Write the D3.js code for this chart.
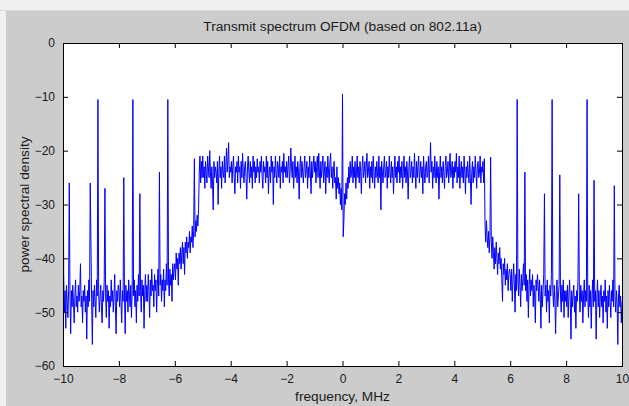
<!DOCTYPE html>
<html>
<head>
<meta charset="utf-8">
<script src="https://cdn.jsdelivr.net/npm/d3@7.9.0/dist/d3.min.js"></script>
<style>
  body { margin: 0; background: #f0f0f0; }
  svg { display: block; font-family: Arial, "Liberation Sans", sans-serif; }
  .tick text { fill: #1a1a1a; }
</style>
</head>
<body>
<svg id="chart" width="629" height="406"></svg>
<script>
// Axis ticks
const xTicks = [-10, -8, -6, -4, -2, 0, 2, 4, 6, 8, 10];
const yTicks = [-60, -50, -40, -30, -20, -10, 0];

// Frequency grid, MHz (20 MHz span, 0.025 MHz bins)
const freqStart = -10;
const freqStep = 0.025;

// PSD, dB, one row per MHz (40 bins each)
const lowerSkirt = [
  // -10
  -10.5, -43, -50, -46, -53, -45, -48, -51, -46, -26, -47, -54, -46, -49, -45, -48, -52, -47, -44, -49,
  -47, -50, -45, -48, -46, -41, -49, -47, -52, -46, -48, -45, -50, -47, -55, -46, -49, -44, -48, -26,
  // -9
  -37, -48, -56, -46, -49, -45, -48, -51, -44, -47, -10.5, -46, -50, -47, -45, -49, -52, -46, -48, -44,
  -27, -47, -51, -45, -48, -46, -53, -47, -49, -44, -48, -46, -50, -47, -43, -49, -54, -46, -48, -45,
  // -8
  -46, -49, -44, -48, -52, -46, -48, -25, -47, -54, -45, -48, -46, -50, -44, -47, -49, -45, -51, -46,
  -10.5, -47, -44, -49, -46, -52, -45, -48, -43, -47, -28, -46, -50, -44, -47, -45, -53, -46, -43, -48,
  // -7
  -45, -48, -43, -46, -51, -44, -47, -42, -46, -45, -49, -43, -46, -44, -50, -45, -42, -47, -24, -45,
  -43, -48, -44, -46, -42, -49, -44, -46, -41, -45, -10.5, -44, -47, -42, -45, -43, -48, -41, -44, -42,
  // -6
  -41, -44, -39, -42, -40, -45, -39, -41, -38, -42, -39, -37, -41, -38, -43, -37, -39, -36, -40, -37,
  -38, -35, -39, -36, -37, -34, -38, -35, -21.5, -36, -33, -35, -32, -34, -31, -24, -21, -26, -22, -25
];

const inBand = [
  // -5
  -21, -25, -23, -27, -22, -24, -26, -21, -23, -25, -20, -24, -27, -23, -26, -31, -22, -25, -23, -24,
  -26, -22, -30, -24, -21, -25, -23, -27, -22, -24, -25, -21, -26, -23, -19.5, -24, -22, -18.5, -25, -23,
  // -4
  -24, -22, -26, -23, -21, -25, -28, -23, -24, -22, -26, -21, -24, -23, -27, -22, -25, -20.5, -24, -26,
  -23, -22, -25, -29, -23, -21, -24, -26, -22, -25, -23, -27, -21, -24, -22, -26, -23, -25, -21.5, -24,
  // -3
  -23, -26, -22, -24, -21, -25, -27, -22, -24, -23, -26, -21, -25, -22, -28, -24, -23, -26, -21, -24,
  -22, -30, -23, -25, -21, -24, -26, -22, -23, -25, -21, -27, -23, -24, -22, -26, -20.5, -24, -23, -25,
  // -2
  -22, -25, -23, -21, -26, -24, -19.5, -23, -25, -22, -27, -24, -21, -25, -23, -26, -22, -24, -29, -23,
  -21, -25, -22, -24, -26, -23, -21, -25, -24, -22, -27, -23, -25, -21, -24, -28, -22, -25, -23, -21,
  // -1
  -24, -22, -26, -23, -21, -25, -20.5, -24, -27, -22, -25, -23, -21, -26, -24, -22, -28, -23, -25, -21,
  -24, -26, -22, -20.5, -25, -23, -27, -24, -22, -26, -25, -29, -23, -27, -25, -28, -26, -30, -27, -31,
  // 0
  -9.5, -36, -33, -28, -30, -26, -29, -25, -27, -23, -26, -22, -25, -24, -21, -26, -23, -25, -22, -27,
  -24, -21, -25, -23, -26, -22, -24, -28, -23, -21, -25, -24, -22, -26, -23, -20.5, -25, -24, -22, -27,
  // 1
  -23, -25, -22, -26, -21, -24, -27, -23, -25, -22, -24, -26, -21, -25, -23, -31, -22, -24, -26, -23,
  -21, -25, -24, -22, -27, -23, -25, -21, -24, -26, -22, -25, -23, -28, -24, -21, -25, -23, -26, -22,
  // 2
  -24, -21, -26, -23, -25, -22, -27, -24, -21, -25, -23, -26, -22, -24, -29, -23, -21, -25, -24, -22,
  -26, -23, -25, -20.5, -24, -27, -22, -25, -23, -21, -26, -24, -22, -25, -23, -28, -21, -24, -26, -23,
  // 3
  -22, -25, -24, -21, -26, -23, -18.5, -24, -22, -27, -23, -25, -21, -24, -26, -22, -25, -23, -29, -24,
  -21, -25, -23, -26, -22, -24, -27, -23, -21, -25, -24, -22, -26, -23, -20.5, -25, -24, -22, -27, -23,
  // 4
  -25, -22, -24, -20.5, -26, -23, -25, -21, -27, -24, -22, -25, -23, -26, -21, -24, -28, -23, -25, -22,
  -24, -26, -21, -25, -30, -24, -22, -26, -23, -25, -21, -24, -27, -23, -22, -25, -24, -21, -26, -23
];

const upperSkirt = [
  // 5
  -24, -22, -26, -21.5, -34, -37, -33, -36, -38, -35, -39, -36, -21.2, -37, -40, -36, -39, -42, -38, -41,
  -37, -40, -43, -39, -41, -38, -42, -40, -44, -48, -41, -43, -40, -45, -42, -44, -41, -46, -43, -42,
  // 6
  -43, -46, -42, -48, -44, -41, -45, -50, -43, -46, -10.5, -44, -47, -42, -45, -49, -43, -46, -44, -41,
  -45, -24, -46, -43, -48, -44, -51, -45, -42, -47, -44, -46, -43, -49, -45, -47, -52, -44, -46, -43,
  // 7
  -45, -48, -44, -47, -53, -45, -49, -46, -43, -28, -47, -45, -50, -44, -48, -46, -52, -45, -47, -43,
  -10.5, -46, -49, -45, -48, -54, -46, -44, -49, -47, -45, -24.5, -47, -50, -45, -48, -44, -51, -46, -48,
  // 8
  -46, -49, -45, -51, -47, -44, -48, -55, -46, -49, -47, -45, -50, -47, -53, -46, -48, -44, -28, -47,
  -50, -45, -48, -46, -52, -47, -44, -49, -46, -48, -10.5, -47, -51, -45, -49, -46, -53, -47, -44, -49,
  // 9
  -25.5, -48, -46, -55, -47, -44, -49, -46, -51, -47, -45, -49, -47, -52, -46, -48, -44, -50, -47, -53,
  -46, -49, -45, -48, -51, -46, -48, -44, -49, -26.5, -47, -50, -46, -48, -56, -47, -45, -49, -47, -52,
  // 10
  -48
];

const psd = lowerSkirt.concat(inBand, upperSkirt);
const data = psd.map((v, i) => ({ f: freqStart + i * freqStep, p: v }));

const W = 629, H = 406;
const mLeft = 63, mRight = 622, mTop = 43, mBottom = 366;

const svg = d3.select('#chart');

// window background
svg.append('rect').attr('width', W).attr('height', H).attr('fill', '#f0f0f0');
svg.append('rect').attr('x', 0).attr('y', 10).attr('width', W).attr('height', 1).attr('fill', '#d8d8d8');
svg.append('rect').attr('x', 6).attr('y', 11).attr('width', W - 6).attr('height', H - 11).attr('fill', '#cccccc');

const x = d3.scaleLinear().domain([-10, 10]).range([mLeft, mRight]);
const y = d3.scaleLinear().domain([-60, 0]).range([mBottom, mTop]);

// plot area
svg.append('rect')
  .attr('x', mLeft).attr('y', mTop)
  .attr('width', mRight - mLeft).attr('height', mBottom - mTop)
  .attr('fill', '#ffffff');

svg.append('clipPath').attr('id', 'clip')
  .append('rect')
  .attr('x', mLeft).attr('y', mTop - 1)
  .attr('width', mRight - mLeft + 1).attr('height', mBottom - mTop + 2);

// spectrum
const line = d3.line()
  .x((d) => x(d.f))
  .y((d) => y(d.p));

svg.append('path')
  .datum(data)
  .attr('clip-path', 'url(#clip)')
  .attr('fill', 'none')
  .attr('stroke', '#0000ff')
  .attr('stroke-width', 1)
  .attr('d', line);

// axes
const fontSize = '12px';

const xAxis = svg.append('g')
  .attr('transform', `translate(0,${mBottom})`)
  .call(d3.axisBottom(x).tickValues(xTicks).tickSizeInner(-5).tickSizeOuter(0).tickPadding(8).tickFormat(d3.format('d')));

const yAxis = svg.append('g')
  .attr('transform', `translate(${mLeft},0)`)
  .call(d3.axisLeft(y).tickValues(yTicks).tickSizeInner(-5).tickSizeOuter(0).tickPadding(8).tickFormat(d3.format('d')));

const xTop = svg.append('g')
  .attr('transform', `translate(0,${mTop})`)
  .call(d3.axisTop(x).tickValues(xTicks).tickSizeInner(-5).tickSizeOuter(0).tickFormat(''));

const yRight = svg.append('g')
  .attr('transform', `translate(${mRight},0)`)
  .call(d3.axisRight(y).tickValues(yTicks).tickSizeInner(-5).tickSizeOuter(0).tickFormat(''));

[xAxis, yAxis, xTop, yRight].forEach((g) => {
  g.select('.domain').remove();
  g.selectAll('line').attr('stroke', '#000');
  g.selectAll('text').attr('font-size', fontSize).attr('font-family', 'Arial, "Liberation Sans", sans-serif');
});

// box
svg.append('rect')
  .attr('x', mLeft).attr('y', mTop)
  .attr('width', mRight - mLeft).attr('height', mBottom - mTop)
  .attr('fill', 'none')
  .attr('stroke', '#000')
  .attr('stroke-width', 1)
  .attr('shape-rendering', 'crispEdges');

// labels
const labelSize = '13.7px';

svg.append('text')
  .attr('x', (mLeft + mRight) / 2).attr('y', 31)
  .attr('text-anchor', 'middle')
  .attr('font-size', labelSize)
  .attr('fill', '#1a1a1a')
  .text('Transmit spectrum OFDM (based on 802.11a)');

svg.append('text')
  .attr('x', (mLeft + mRight) / 2).attr('y', 401)
  .attr('text-anchor', 'middle')
  .attr('font-size', labelSize)
  .attr('fill', '#1a1a1a')
  .text('frequency, MHz');

svg.append('text')
  .attr('transform', `translate(29,${(mTop + mBottom) / 2}) rotate(-90)`)
  .attr('text-anchor', 'middle')
  .attr('font-size', labelSize)
  .attr('fill', '#1a1a1a')
  .text('power spectral density');
</script>
</body>
</html>
